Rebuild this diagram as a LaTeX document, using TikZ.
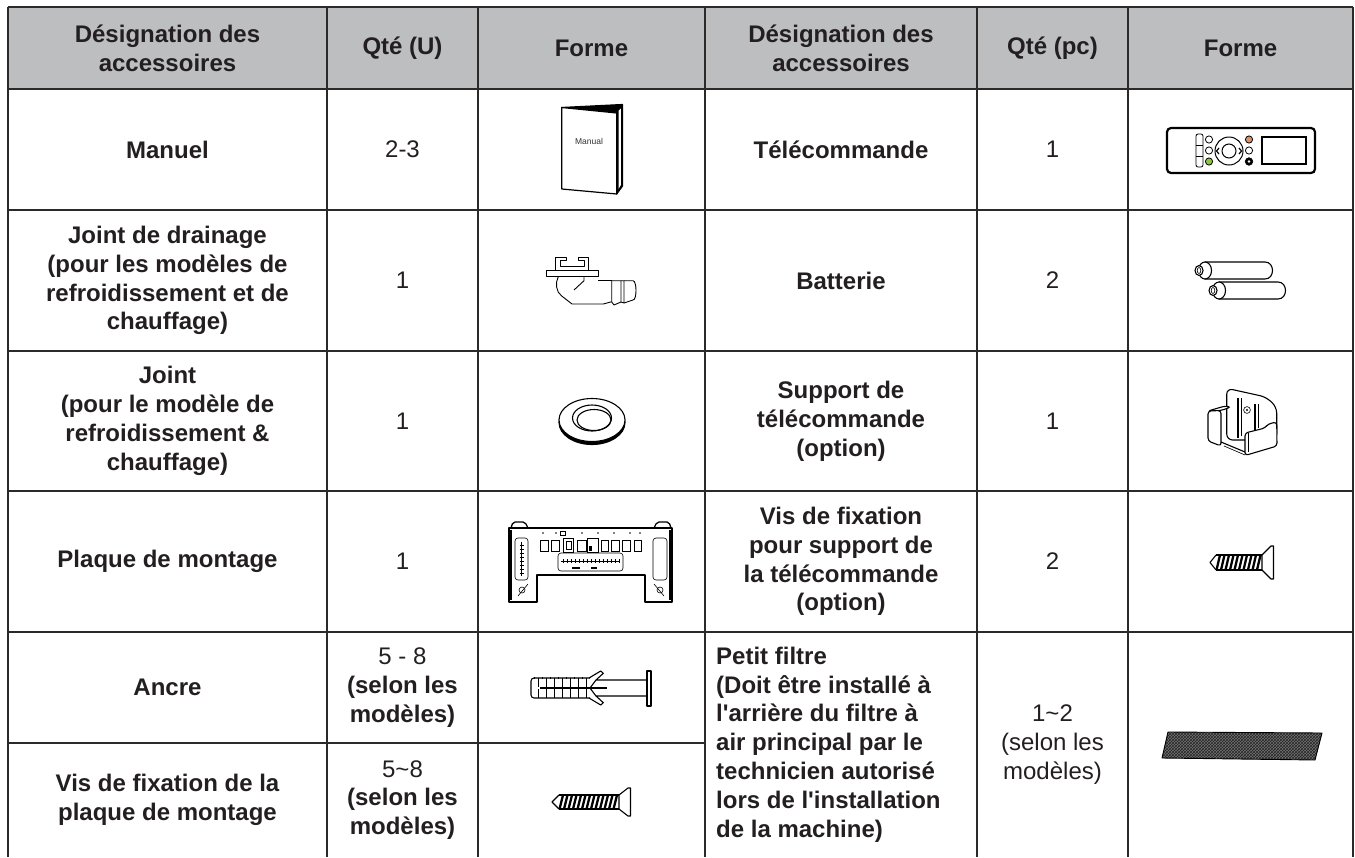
\documentclass[tikz,border=0pt]{standalone}
\usepackage{fontspec}
\setmainfont{Liberation Sans}[Ligatures=TeXOff]
\usetikzlibrary{patterns}
\definecolor{gridc}{HTML}{2B2A29}
\definecolor{hdrfill}{HTML}{BCBEC0}
\definecolor{txt}{HTML}{231F20}
\definecolor{btnorange}{HTML}{D9946A}
\definecolor{btngreen}{HTML}{8CC63F}
\tikzset{
  gridline/.style={line width=2.4pt, draw=gridc},
  hdr/.style={align=center, font=\fontsize{24}{28.8}\selectfont\bfseries, text=txt, inner sep=0pt},
  cellb/.style={align=center, font=\fontsize{24}{28.8}\selectfont\bfseries, text=txt, inner sep=0pt},
  cellr/.style={align=center, font=\fontsize{24}{28.8}\selectfont, text=txt, inner sep=0pt},
  icon/.style={line width=1.1pt, draw=black, line join=round},
  thin/.style={line width=0.6pt, draw=black},
}
\begin{document}
\begin{tikzpicture}[x=1pt,y=-1pt]
\useasboundingbox (0,0) rectangle (1355,857);
% header background
\fill[hdrfill] (8,7) rectangle (1353,89);
% grid
\foreach \yy in {7,89,210,351,491,632} \draw[gridline] (8,\yy) -- (1353,\yy);
\draw[gridline] (8,743) -- (705,743);
\foreach \xx in {8,327,478,705,977,1128,1353} \draw[gridline] (\xx,7) -- (\xx,857);

% header
\node[hdr] (h1) at (167.5,48) {Désignation des\\accessoires};
\node[hdr] (h2) at (402.5,48) {Qté (U)};
\node[hdr] (h3) at (591.5,48) {Forme};
\node[hdr] (h4) at (841,48) {Désignation des\\accessoires};
\node[hdr] (h5) at (1052.5,48) {Qté (pc)};
\node[hdr] (h6) at (1240.5,48) {Forme};

% left half
\node[cellb] (l1) at (167.5,149.5) {Manuel};
\node[cellr] (q1) at (402.5,149.5) {2-3};
\node[cellb] (l2) at (167.5,280.5) {Joint de drainage\\(pour les modèles de\\refroidissement et de\\chauffage)};
\node[cellr] (q2) at (402.5,280.5) {1};
\node[cellb] (l3) at (167.5,421) {Joint\\(pour le modèle de\\refroidissement \&\\chauffage)};
\node[cellr] (q3) at (402.5,421) {1};
\node[cellb] (l4) at (167.5,561.5) {Plaque de montage};
\node[cellr] (q4) at (402.5,561.5) {1};
\node[cellb] (l5) at (167.5,687.5) {Ancre};
\node[cellr] (q5) at (402.5,687.5) {5 - 8\\\textbf{(selon les}\\\textbf{modèles)}};
\node[cellb] (l6) at (167.5,800) {Vis de fixation de la\\plaque de montage};
\node[cellr] (q6) at (402.5,800) {5\char126 8\\\textbf{(selon les}\\\textbf{modèles)}};

% right half
\node[cellb] (r1) at (841,149.5) {Télécommande};
\node[cellr] (p1) at (1052.5,149.5) {1};
\node[cellb] (r2) at (841,280.5) {Batterie};
\node[cellr] (p2) at (1052.5,280.5) {2};
\node[cellb] (r3) at (841,421) {Support de\\télécommande\\(option)};
\node[cellr] (p3) at (1052.5,421) {1};
\node[cellb] (r4) at (841,561.5) {Vis de fixation\\pour support de\\la télécommande\\(option)};
\node[cellr] (p4) at (1052.5,561.5) {2};
\node[cellb, align=left, anchor=west] (r5) at (716,744.5) {Petit filtre\\(Doit être installé à\\l'arrière du filtre à\\air principal par le\\technicien autorisé\\lors de l'installation\\de la machine)};
\node[cellr] (p5) at (1052.5,744.5) {1\char126 2\\(selon les\\modèles)};

% ---------- icons ----------
% Manual
\filldraw[icon, line width=1.2pt, fill=black] (561.7,107.5) -- (622.5,104.5) -- (622.5,186) -- (616.7,194) -- (616.7,113) -- cycle;
\fill[white] (618.5,111) -- (620.8,108.5) -- (620.8,185) -- (618.5,189) -- cycle;
\filldraw[icon, line width=1.2pt, fill=white] (561.7,107.5) -- (616.7,113) -- (616.7,194) -- (561.7,189) -- cycle;
\node[font=\fontsize{8.5}{10}\selectfont, text=black!80, inner sep=0pt] (mantxt) at (589,141.7) {Manual};

% Drain joint
\draw[icon, line width=0.9pt] (546,276.7) rectangle (598.3,270.7);
\draw[icon, line width=0.9pt] (555,270.7) -- (555,257.3) -- (566,257.3) -- (566,260.7) -- (560.7,260.7) -- (560.7,266.7)
  -- (584,266.7) -- (584,260.7) -- (578.3,260.7) -- (578.3,257.3) -- (588.3,257.3) -- (588.3,270.7);
\draw[icon, line width=0.9pt] (558.3,276.7) .. controls (555,283) and (556,292) .. (561.7,296) -- (572,304) -- (603.3,304) -- (611.7,301.7);
\draw[icon, line width=0.9pt] (598.3,280.7) -- (611.7,280.7);
\draw[icon, line width=0.9pt] (574,290) -- (584,280.7) -- (584,276.7);
\draw[icon, line width=0.9pt] (611.7,280.7) -- (611.7,302) -- (614,305);
\draw[icon, line width=0.9pt] (611.7,280.7) -- (621,280.7) -- (621,302) -- (614,305);
\draw[icon, line width=0.9pt] (621,280.7) -- (624,280.7) -- (624,303) -- (621,302);
\draw[icon, line width=0.9pt] (624,280.7) -- (633,280.7) .. controls (637,281) and (637,300) .. (633,300) -- (624,303);

% Washer
\filldraw[icon, fill=black] (592,422.5) ellipse (33pt and 22pt);
\filldraw[icon, fill=white] (592,420) ellipse (33pt and 21.5pt);
\filldraw[icon, fill=white] (592,418) ellipse (19.5pt and 13pt);
\draw[icon] (594,420) ellipse (17pt and 10.5pt);

% Mounting plate
\draw[icon, line width=1.3pt] (509,528) -- (672,528) -- (672,602) -- (645,602) -- (645,575) -- (537,575) -- (537,602) -- (509,602) -- cycle;
\draw[icon, line width=1.3pt, rounded corners=2pt] (511,528) -- (513,522) -- (525,522) -- (528,528);
\draw[icon, line width=1.3pt, rounded corners=2pt] (654,528) -- (657,522) -- (669,522) -- (671,528);
\draw[icon, line width=1.1pt] (511,530) -- (511,600);
\draw[icon, line width=1.1pt] (670,530) -- (670,600);
\foreach \xx in {543,556,582,598,614,630,640} \fill (\xx,533) circle (0.9pt);
\draw[thin] (560,531) rectangle (565,535);
\foreach \xx/\ww in {540/8,551/8,577/9,601/7,611/8,622/8,634/7} \draw[thin] (\xx,540) rectangle ++(\ww,11);
\draw[thin] (563,538) rectangle (573,552);
\draw[thin] (566,541) rectangle (571,549);
\draw[thin] (587,538) rectangle (598,552);
\fill[black] (589,546) rectangle (592,551);
\draw[thin, rounded corners=3pt] (558,553) rectangle (623,571);
\draw[thin] (561,561) -- (620,561);
\foreach \xx in {563,567,...,619} \draw[thin, line width=0.4pt] (\xx,559) -- (\xx,563);
\fill (572,567) rectangle (580,569);
\fill (591,567) rectangle (597,569);
\draw[thin, rounded corners=3pt] (515,538) rectangle (528,580);
\draw[thin] (521.5,542) -- (521.5,576);
\foreach \yy in {545,549,...,573} \draw[thin, line width=0.4pt] (519.5,\yy) -- (523.5,\yy);
\draw[thin, rounded corners=3pt] (653,538) rectangle (667,580);
\draw[thin] (522,590) circle (3pt);
\draw[thin] (660,590) circle (3pt);
\draw[thin] (518,596) -- (528,584);
\draw[thin] (654,584) -- (664,596);

% Anchor
\draw[icon, rounded corners=3pt] (590,678) -- (531,678) -- (531,698) -- (590,698);
\draw[icon] (540,688) -- (607,688);
\foreach \xx in {538,546,554,562,570,578,586} {
  \draw[thin] (\xx,678) -- (\xx,687);
  \draw[thin] (\xx,689) -- (\xx,698);
  \draw[thin] (\xx-4,677) -- (\xx-4,679);
}
\draw[icon] (589,678) -- (600.7,671) -- (603.3,673.3) -- (596,680) -- (647,680);
\draw[icon] (589,698) -- (600.7,705) -- (603.3,702.7) -- (596,696) -- (647,696);
\draw[icon] (596,680) -- (590,688) -- (596,696);
\filldraw[icon, fill=white] (647,671) rectangle (651,706);

% Screw (mounting plate)
\draw[icon] (559,795) -- (619,795);
\draw[icon] (559,809) -- (619,809);
\foreach \xx in {561,565.5,...,617} \draw[line width=2.3pt] (\xx+2,795) -- (\xx-1.5,809);
\draw[icon] (559,795) -- (552,802) -- (559,809);
\filldraw[icon, fill=white] (619,795) -- (628,788) -- (630.5,788) -- (630.5,816) -- (628,816) -- (619,809) -- cycle;

% Remote control
\draw[line width=2.2pt, rounded corners=4pt] (1167,128) rectangle (1315,173);
\draw[line width=1.5pt] (1262,137) rectangle (1306,164);
\draw[thin, line width=0.8pt, rounded corners=2pt] (1196,134) rectangle (1203,167);
\draw[thin] (1196,145) -- (1203,145);
\draw[thin] (1196,156) -- (1203,156);
\draw[thin, line width=0.8pt] (1209,139.5) circle (3.6pt);
\draw[thin, line width=0.8pt] (1209,150.5) circle (3.6pt);
\filldraw[thin, line width=0.8pt, fill=btngreen] (1209,161.5) circle (3.6pt);
\draw[line width=1pt] (1229,151) circle (14pt);
\draw[line width=1pt] (1229,151) circle (7pt);
\draw[line width=1.2pt] (1219,148) -- (1216.5,151) -- (1219,154);
\draw[line width=1.2pt] (1239,148) -- (1241.5,151) -- (1239,154);
\filldraw[thin, line width=0.8pt, fill=btnorange] (1249,139.5) circle (3.6pt);
\draw[thin, line width=0.8pt] (1249,150.5) circle (3.6pt);
\filldraw[thin, fill=black] (1249,161.5) circle (3.8pt);
\fill[white] (1249,161.5) circle (1.3pt);

% Batteries
\filldraw[icon, fill=white] (1205,262) -- (1265,262) .. controls (1275,262) and (1275,279) .. (1265,279) -- (1205,279) -- cycle;
\filldraw[icon, fill=white] (1205,270.5) ellipse (6.5pt and 8.5pt);
\filldraw[icon, fill=white] (1199,270.5) ellipse (4pt and 5pt);
\draw[thin] (1199,270.5) ellipse (1.8pt and 3pt);
\filldraw[icon, fill=white] (1219,282) -- (1278,282) .. controls (1288,282) and (1288,299) .. (1278,299) -- (1219,299) -- cycle;
\filldraw[icon, fill=white] (1219,290.5) ellipse (6.5pt and 8.5pt);
\filldraw[icon, fill=white] (1213,290.5) ellipse (4pt and 5pt);
\draw[thin] (1213,290.5) ellipse (1.8pt and 3pt);

% Remote holder
\filldraw[icon, fill=white, rounded corners=6pt] (1226.7,440) -- (1226.7,388.3) -- (1266,397) -- (1276.7,407) -- (1276.7,440) -- cycle;
\draw[line width=1.3pt] (1238,398) -- (1238,438);
\draw[thin] (1241,398) -- (1241,436);
\draw[line width=1.3pt] (1255,404) -- (1255,430);
\draw[thin] (1258,404) -- (1258,428);
\filldraw[thin, fill=white] (1247,410) circle (3.4pt);
\fill (1247,410) circle (1.2pt);
\filldraw[icon, fill=white, rounded corners=3pt] (1208,411) -- (1225,406) -- (1231,407) -- (1221,410.5) -- cycle;
\filldraw[icon, fill=white, rounded corners=3pt] (1208,411) -- (1221,410.5) -- (1221,446) -- (1208,441) -- cycle;
\draw[icon] (1221,442) -- (1245,452);
\draw[thin] (1224,446) -- (1245,455);
\filldraw[icon, fill=white, rounded corners=3pt] (1245,433) -- (1265,428) -- (1268,424) -- (1276.7,422) -- (1277,446) -- (1245,455.5) -- cycle;
\draw[thin] (1248,433) -- (1248,452);

% Screw (remote holder)
\draw[icon] (1216,555) -- (1262,555);
\draw[icon] (1216,570) -- (1262,570);
\foreach \xx in {1218,1222.5,...,1260} \draw[line width=2.3pt] (\xx+2,555) -- (\xx-1.5,570);
\draw[icon] (1216,555) -- (1210,562.5) -- (1216,570);
\filldraw[icon, fill=white] (1262,555) -- (1271,546) -- (1273.5,546) -- (1273.5,579) -- (1271,579) -- (1262,570) -- cycle;

% Small filter
\fill[black!55] (1162,758) -- (1168,732) -- (1322,733) -- (1315,760) -- cycle;
\fill[pattern=crosshatch, pattern color=black!85] (1162,758) -- (1168,732) -- (1322,733) -- (1315,760) -- cycle;
\draw[icon, line width=0.9pt] (1162,758) -- (1168,732) -- (1322,733) -- (1315,760) -- cycle;
\end{tikzpicture}
\end{document}
